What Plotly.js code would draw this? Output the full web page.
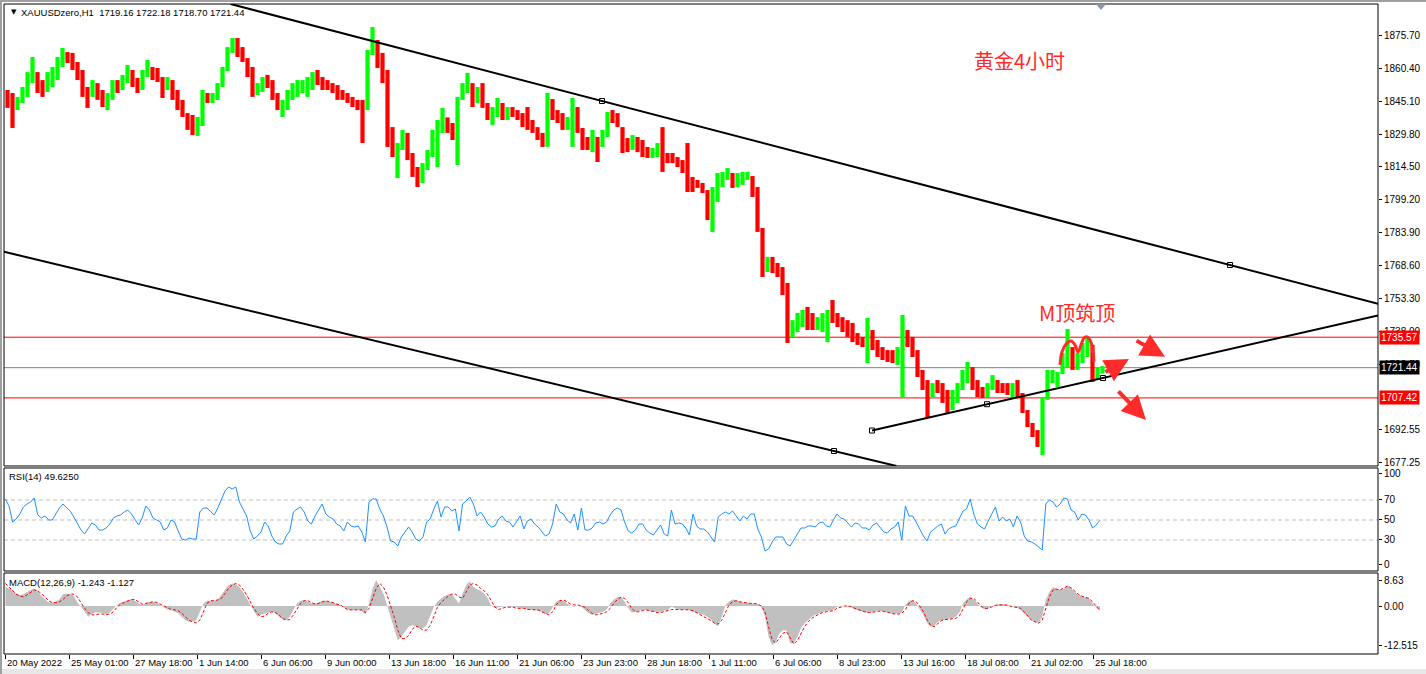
<!DOCTYPE html>
<html><head><meta charset="utf-8">
<script src="https://cdn.plot.ly/plotly-3.0.1.min.js"></script>
<style>html,body{margin:0;padding:0;background:#fff;overflow:hidden}#chart{width:1426px;height:674px}</style>
</head><body><div id="chart"></div>
<script>
// ---------------- DATA ----------------
const symbolTitle = 'XAUUSDzero,H1';
const lastBarOHLC = [1719.16, 1722.18, 1718.70, 1721.44];
const chartNote = '黄金4小时';
const patternNote = 'M顶筑顶';

const dateLabels = ['20 May 2022','25 May 01:00','27 May 18:00','1 Jun 14:00','6 Jun 06:00','9 Jun 00:00','13 Jun 18:00','16 Jun 11:00','21 Jun 06:00','23 Jun 23:00','28 Jun 18:00','1 Jul 11:00','6 Jul 06:00','8 Jul 23:00','13 Jul 16:00','18 Jul 08:00','21 Jul 02:00','25 Jul 18:00'];
const dateLabelBars = [0,64,128,192,256,320,384,448,512,576,640,704,768,832,896,960,1024,1088];

// aggregated H1 bars (every 5 hourly bars)
const candleStart = 2.5, candleStep = 5;
const firstOpen = 1846.5;
const candleHigh = [
1850.2,1848.8,1847.0,1851.6,1858.5,1865.5,1858.5,1854.8,1858.5,1860.9,
1865.5,1869.7,1867.8,1867.4,1863.2,1859.5,1851.6,1854.8,1853.4,1850.2,
1848.8,1854.8,1854.8,1857.2,1861.8,1859.5,1855.8,1859.5,1864.1,1860.9,
1860.4,1856.2,1856.2,1854.8,1850.2,1845.6,1839.5,1838.6,1837.7,1850.2,
1848.8,1848.8,1853.4,1860.9,1870.1,1874.3,1874.3,1870.1,1865.0,1860.9,
1853.4,1856.2,1857.2,1854.8,1848.8,1845.6,1850.2,1853.4,1854.8,1854.8,
1856.2,1858.5,1859.5,1856.2,1854.8,1853.4,1852.5,1850.2,1848.8,1847.0,
1845.6,1845.6,1868.8,1879.4,1873.4,1867.4,1859.5,1833.0,1825.6,1831.7,
1830.3,1821.0,1814.5,1816.3,1822.4,1831.7,1836.3,1841.9,1837.5,1834.9,
1847.0,1853.4,1858.1,1853.4,1851.6,1853.4,1844.2,1842.3,1846.5,1844.2,
1842.3,1842.3,1840.9,1839.5,1842.3,1836.3,1833.0,1830.3,1848.8,1846.0,
1840.9,1839.5,1837.7,1846.5,1842.3,1832.6,1828.4,1831.7,1828.4,1831.7,
1840.0,1840.9,1839.5,1833.0,1827.9,1829.3,1828.4,1827.0,1823.8,1823.3,
1825.6,1833.0,1821.0,1821.0,1819.1,1817.7,1825.6,1809.9,1808.5,1807.1,
1803.8,1805.2,1811.7,1812.2,1814.0,1811.7,1811.7,1812.2,1812.2,1810.3,
1805.2,1786.2,1772.8,1772.8,1770.0,1768.1,1760.7,1743.5,1746.8,1748.2,
1749.6,1746.8,1744.9,1746.8,1748.2,1752.8,1746.8,1744.9,1743.5,1742.2,
1737.5,1735.7,1744.5,1738.9,1734.3,1731.0,1729.6,1729.6,1731.0,1745.9,
1738.9,1735.7,1729.6,1720.4,1715.7,1714.3,1715.7,1714.3,1711.1,1711.1,
1714.3,1720.4,1724.1,1721.7,1715.7,1712.5,1714.3,1718.0,1715.7,1714.3,
1714.3,1714.3,1715.7,1709.7,1701.8,1695.8,1692.5,1707.8,1720.4,1720.4,
1719.4,1728.2,1739.4,1731.0,1728.2,1732.9,1735.7,1732.0,1721.3,1722.18];
const candleLow = [
1841.9,1832.6,1840.9,1844.2,1847.0,1853.4,1848.8,1847.0,1849.3,1851.6,
1854.8,1860.9,1862.7,1859.5,1854.8,1847.0,1841.9,1847.0,1845.6,1842.3,
1840.9,1845.6,1848.8,1850.2,1853.4,1851.6,1848.8,1850.2,1856.2,1854.8,
1853.9,1846.5,1850.2,1845.6,1840.9,1837.7,1831.7,1829.3,1828.9,1833.5,
1844.2,1844.2,1845.6,1851.6,1859.0,1867.4,1865.5,1863.2,1856.2,1847.0,
1847.9,1849.3,1851.1,1845.6,1840.9,1837.7,1840.9,1845.6,1847.0,1848.8,
1847.0,1850.2,1852.5,1850.2,1850.2,1848.8,1845.6,1845.6,1844.2,1842.3,
1840.9,1825.6,1840.9,1866.4,1860.4,1853.4,1823.8,1819.1,1809.4,1822.4,
1817.7,1809.9,1805.2,1807.1,1813.1,1819.1,1814.5,1830.3,1830.3,1827.0,
1815.4,1845.6,1848.8,1842.3,1844.2,1841.9,1836.3,1834.0,1837.7,1836.3,
1836.3,1837.7,1836.3,1833.0,1831.7,1830.3,1827.0,1823.8,1823.8,1836.3,
1834.9,1831.7,1831.7,1823.8,1830.3,1822.4,1822.4,1821.4,1816.8,1823.8,
1828.4,1834.9,1833.0,1821.0,1821.4,1822.4,1821.4,1819.1,1818.7,1818.7,
1819.1,1812.2,1816.3,1816.3,1814.5,1811.7,1802.9,1802.9,1804.8,1802.4,
1789.9,1784.4,1798.3,1805.2,1808.5,1804.8,1805.2,1806.2,1808.5,1800.6,
1784.4,1763.5,1765.8,1765.3,1763.5,1755.1,1732.9,1735.7,1738.0,1740.3,
1738.9,1738.9,1738.9,1738.0,1733.3,1742.2,1740.3,1738.0,1735.7,1733.3,
1732.0,1731.0,1723.6,1729.6,1726.4,1725.0,1724.1,1723.6,1722.7,1707.8,
1731.0,1726.4,1717.1,1711.1,1698.1,1707.8,1709.7,1705.1,1700.4,1701.8,
1705.1,1711.1,1714.3,1711.1,1707.8,1707.4,1707.4,1711.1,1709.7,1709.7,
1708.8,1707.8,1707.4,1700.4,1693.9,1689.3,1684.7,1680.9,1706.5,1714.3,
1712.5,1718.5,1721.7,1720.4,1720.4,1723.6,1726.4,1714.8,1715.7,1718.70];
const candleClose = [
1845.6,1842.8,1845.6,1850.2,1855.8,1857.2,1852.5,1852.5,1857.2,1859.5,
1864.1,1866.4,1865.0,1861.8,1857.2,1849.3,1847.9,1851.1,1847.9,1845.6,
1847.9,1852.5,1852.1,1855.8,1858.5,1853.9,1852.5,1858.5,1859.5,1858.5,
1855.8,1852.5,1853.0,1847.9,1843.2,1838.6,1834.0,1832.6,1834.0,1847.9,
1845.6,1847.0,1852.5,1859.5,1868.8,1872.5,1868.8,1865.0,1858.5,1850.2,
1852.1,1853.9,1853.0,1847.4,1842.8,1843.7,1847.9,1851.1,1852.1,1853.0,
1853.9,1856.7,1854.8,1853.0,1852.1,1850.2,1848.3,1847.4,1845.6,1844.2,
1842.8,1840.9,1866.4,1873.4,1866.4,1857.2,1829.3,1822.4,1824.7,1827.9,
1820.1,1812.2,1809.4,1814.0,1820.1,1829.3,1834.0,1837.2,1832.6,1829.3,
1845.6,1852.1,1852.5,1847.9,1849.3,1843.7,1838.6,1840.9,1842.8,1840.0,
1840.9,1840.0,1838.1,1836.3,1833.5,1831.7,1828.9,1825.6,1845.6,1840.0,
1837.2,1834.4,1836.3,1840.9,1832.6,1826.1,1824.7,1827.0,1826.1,1829.3,
1838.6,1837.2,1833.0,1824.7,1824.7,1827.0,1823.8,1821.4,1820.1,1821.4,
1823.3,1820.1,1818.7,1817.7,1816.3,1814.0,1806.2,1806.2,1805.7,1803.8,
1794.6,1801.5,1808.5,1810.3,1810.8,1808.5,1809.4,1810.3,1810.3,1802.9,
1786.2,1769.1,1770.4,1767.7,1765.8,1757.5,1738.9,1741.7,1744.5,1746.3,
1744.5,1742.6,1743.5,1744.5,1745.9,1744.5,1742.6,1739.8,1738.9,1735.2,
1734.3,1733.3,1736.6,1732.0,1728.7,1727.3,1726.9,1725.9,1729.6,1736.6,
1734.3,1728.7,1719.4,1712.9,1711.1,1712.0,1711.1,1707.4,1704.1,1708.8,
1712.0,1718.0,1719.4,1713.4,1710.2,1709.7,1712.5,1713.9,1712.9,1711.5,
1711.1,1712.0,1708.8,1701.8,1695.3,1691.6,1686.0,1706.5,1716.6,1717.6,
1718.5,1725.9,1728.7,1725.0,1725.9,1730.6,1732.0,1716.6,1719.4,1721.44];

// indicator samples
const indStart = 0.4, indStep = 3.6;
const rsiValues = [
71,64,48,51,56,63,66,68,72,55, 52,54,50,50,56,62,66,62,59,53,
46,40,36,42,47,45,40,40,42,46, 52,54,55,58,60,56,51,45,52,64,
60,52,50,48,40,42,50,48,39,31, 30,32,31,31,58,62,62,58,55,62,
70,79,83,81,83,68,61,54,39,31, 34,38,48,44,34,28,26,26,34,39,
58,61,63,58,49,46,54,60,66,56, 53,51,46,44,39,48,44,43,44,38,
28,68,71,71,61,54,43,29,28,24, 33,38,43,38,31,29,33,48,51,61,
69,53,63,63,59,61,39,66,69,73, 66,54,58,53,46,43,44,51,54,49,
48,43,49,54,41,49,51,46,43,38, 34,
36,46,66,58,56,50,47,56,40,62, 40,40,42,47,48,46,48,55,60,62,
60,48,39,37,40,46,46,40,37,35, 40,45,36,34,60,46,47,46,42,35,
56,44,41,41,38,33,28,53,56,58, 56,59,54,49,54,51,56,56,41,33,
19,21,28,33,33,33,26,24,30,36, 42,42,44,44,43,47,48,44,43,50,
56,52,51,47,43,47,46,42,42,40, 45,47,42,38,37,41,43,48,30,64,
54,54,48,41,34,29,38,41,44,46, 36,41,43,44,51,59,61,71,56,46,
43,41,49,56,63,49,53,49,51,43, 54,48,34,29,28,26,23,20,66,70,
68,63,66,72,71,60,58,50,56,55, 50,42,45,49.625];
const macdMain = [
5.0,4.6,4.2,3.3,2.9,3.1,3.7,4.2,4.6,4.0, 2.6,1.7,0.9,0.9,1.1,1.7,3.1,3.3,3.1,2.6,
0.9,-0.2,-1.5,-2.8,-2.1,-1.7,-1.7,-1.9,-2.1,-1.7, -0.6,0.3,0.9,1.1,1.6,1.7,1.4,0.7,0.3,0.7,
1.1,1.1,0.9,0.3,-0.3,-0.9,-1.0,-1.5,-1.9,-2.8, -3.7,-4.1,-4.1,-3.7,-1.7,0.7,1.4,1.4,1.4,1.7,
2.9,4.2,5.5,5.9,5.7,5.0,3.7,2.0,0.3,-1.5, -2.8,-2.3,-1.9,-1.7,-1.5,-1.9,-2.8,-3.5,-3.7,-2.8,
-1.0,0.7,1.4,1.6,1.1,0.7,0.7,0.9,1.4,1.4, 1.1,0.9,0.7,0.3,-0.3,-0.9,-1.0,-1.0,-1.0,-1.2,
-2.3,0.7,4.6,6.8,5.0,3.3,0.3,-2.8,-5.8,-8.9, -8.0,-6.7,-5.4,-5.0,-5.2,-5.8,-5.8,-5.0,-2.8,-0.2,
1.1,2.0,2.6,3.1,3.1,2.0,0.7,3.3,5.5,6.4, 5.0,4.4,4.0,3.3,2.0,0.0,-0.6,-0.3,-0.2,0.0,
-0.3,-0.2,-0.3,-0.6,-0.6,-0.9,-0.9,-1.0,-1.2,-1.5, -2.1,
-1.9,-0.2,1.1,1.6,1.4,0.7,0,-0.2,0,-0.2, -1.0,-1.9,-2.3,-2.1,-1.7,-1.5,-0.9,0.7,1.7,2.3,
2.4,1.1,-0.6,-1.7,-1.5,-1.2,-1.0,-1.0,-1.2,-1.5, -1.5,-1.5,-1.2,-1.0,-0.2,-0.6,-0.9,-0.9,-0.9,-1.0,
-1.5,-1.7,-1.9,-2.3,-2.8,-3.5,-4.7,-5.2,-2.8,0.3, 1.1,1.7,1.6,1.1,0.9,0.9,0.7,0.7,0.5,-0.2,
-2.8,-8.0,-10.2,-9.3,-7.1,-6.3,-6.3,-9.7,-9.7,-8.0, -5.8,-4.5,-3.7,-2.8,-2.3,-1.9,-1.5,-1.2,-1.2,-0.9,
-0.2,0,0,-0.2,-0.3,-0.9,-1.2,-1.5,-1.7,-1.7, -1.5,-1.2,-1.2,-1.5,-1.7,-1.9,-2.1,-1.9,-1.7,0.3,
1.4,1.6,0.7,-0.9,-2.3,-4.4,-5.4,-5.2,-4.1,-3.7, -3.5,-3.5,-3.2,-2.8,-1.7,0.7,1.7,2.4,1.7,0.7,
-0.3,-0.9,-0.6,0,0.3,0.5,0.5,0.3,0,-0.2, -0.3,-1.0,-1.9,-2.8,-3.7,-4.1,-4.5,-2.8,1.6,3.7,
4.9,4.6,4.2,4.4,5.5,4.6,3.7,2.9,2.6,2.4, 2.0,0.7,-0.3,-1.243];
const macdSignal = [
5.9,5.0,4.0,3.1,2.6,2.4,2.9,3.5,4.2,4.0, 3.3,2.4,1.4,0.9,0.9,1.1,1.7,2.6,3.1,3.1,
2.4,0.9,-0.6,-1.7,-2.3,-2.3,-2.1,-2.1,-2.2,-2.1, -1.5,-0.3,0.5,0.9,1.4,1.7,1.7,1.1,0.5,0.7,
1.0,1.1,1.0,0.5,0.0,-0.6,-0.9,-1.0,-1.2,-1.9, -2.8,-3.7,-4.1,-4.4,-3.7,-1.5,0.7,1.4,1.4,1.6,
2.0,3.3,4.6,5.5,5.9,5.5,4.4,2.9,1.1,-0.6, -1.9,-2.8,-2.6,-1.9,-1.5,-1.7,-2.3,-3.2,-3.7,-3.5,
-2.3,-0.6,0.7,1.4,1.4,0.9,0.5,0.7,1.1,1.4, 1.1,0.9,0.5,0.3,-0.3,-0.9,-1.0,-1.0,-1.0,-1.0,
-1.7,-0.6,2.0,4.6,5.9,5.0,2.9,0.3,-2.8,-6.3, -8.5,-8.5,-7.7,-6.1,-5.2,-5.6,-6.3,-6.3,-5.0,-2.8,
-0.3,0.9,1.7,2.6,3.1,3.1,2.4,2.0,3.7,5.5, 5.9,5.5,4.6,4.0,2.9,1.1,-0.3,-0.9,-0.6,-0.3,
-0.3,-0.3,-0.6,-0.6,-0.6,-0.9,-0.9,-0.9,-1.0,-1.5, -1.9,
-2.3,-1.5,0.3,1.4,1.6,1.1,0.5,0.3,0.3,0, -0.3,-1.2,-1.9,-2.3,-2.1,-1.9,-1.5,-0.6,0.7,1.7,
2.3,2.0,0.9,-0.6,-1.5,-1.5,-1.2,-1.0,-1.2,-1.5, -1.7,-1.7,-1.5,-1.2,-0.9,-0.9,-0.9,-0.9,-0.9,-1.0,
-1.2,-1.7,-2.1,-2.6,-3.2,-3.8,-4.5,-4.7,-3.7,-1.5, 0.3,1.1,1.4,1.1,0.9,0.7,0.7,0.7,0.5,0,
-1.5,-5.4,-8.9,-9.6,-8.5,-7.1,-6.7,-8.5,-9.9,-9.0, -7.1,-5.4,-4.1,-3.2,-2.6,-2.1,-1.7,-1.5,-1.3,-1.2,
-0.6,-0.2,0,0,-0.2,-0.6,-1.0,-1.3,-1.6,-1.7, -1.6,-1.4,-1.3,-1.4,-1.7,-1.9,-2.1,-2.1,-1.9,-0.9,
0.7,1.4,1.1,0,-1.5,-3.5,-5.0,-5.4,-4.7,-3.8, -3.5,-3.5,-3.3,-3.2,-2.6,-0.9,1.1,2.0,2.0,1.1,
0,-0.6,-0.6,-0.2,0.2,0.3,0.3,0.3,0,-0.2, -0.3,-0.6,-1.5,-2.6,-3.7,-4.1,-4.5,-3.7,-0.9,2.4,
4.2,4.4,4.2,4.6,5.2,4.8,4.0,3.1,2.6,2.4, 2.0,1.1,0,-1.127];

// axis labels
const priceTicks = [1875.70,1860.40,1845.10,1829.80,1814.50,1799.20,1783.90,1768.60,1753.30,1738.00,1722.70,1692.55,1677.25];
const rsiTickPos = [96,70,50,30,5];
const rsiTickText = ['100','70','50','30','0'];
const rsiLevels = [70,50,30];
const macdTickPos = [6.8,0,-10.17];
const macdTickText = ['8.63','0.00','-12.515'];

// horizontal price levels and bid
const redLevels = [1735.57, 1707.42];
const bidPrice = 1721.44;

// drawn objects (bar index, price)
const upperTrend = [[597,1845.10],[1225,1769.05]];
const lowerTrend = [[0,1775.08],[829,1682.80]];
const risingTrend = [[867,1692.30],[982,1704.50],[1098,1716.65]];
const mShape = [[1055,1722.7],[1057,1728.7],[1061,1732.4],[1066,1733.8],[1070,1732.0],[1073,1728.7],[1076,1732.0],[1079,1735.2],[1082,1735.7],[1086,1733.3],[1088,1728.7],[1089,1724.1]];
const arrowHeads = [[1124,1725.5,-25,14],[1160,1726.5,-30,-17],[1141,1697.2,-29,-30]];
const notePos = [1014,1864.1];
const patternPos = [1072,1746.8];

// ---------------- BUILD ----------------
const XR = [-1, 1373];
const YR = [1675.85, 1890.08];
const RED = '#ff0000', NOTE = '#ff2a2a';

const candleX = candleClose.map((_, i) => candleStart + candleStep * i);
const candleOpen = candleClose.map((c, i) => i === 0 ? firstOpen : candleClose[i - 1]);
const indX = rsiValues.map((_, i) => indStart + indStep * i);

function clipSeg(a, b, extL, extR) {
  let t0 = extL ? -1e9 : 0, t1 = extR ? 1e9 : 1;
  const dx = b[0] - a[0], dy = b[1] - a[1];
  const p = [-dx, dx, -dy, dy];
  const q = [a[0] - XR[0], XR[1] - a[0], a[1] - YR[0], YR[1] - a[1]];
  for (let i = 0; i < 4; i++) {
    if (p[i] === 0) { if (q[i] < 0) return null; continue; }
    const r = q[i] / p[i];
    if (p[i] < 0) { if (r > t0) t0 = r; } else { if (r < t1) t1 = r; }
  }
  if (t0 > t1) return null;
  return [[a[0] + t0 * dx, a[1] + t0 * dy], [a[0] + t1 * dx, a[1] + t1 * dy]];
}

const traces = [
  {type:'ohlc', x:candleX, open:candleOpen, high:candleHigh, low:candleLow, close:candleClose,
   increasing:{line:{color:'#00ff00', width:4.2}},
   decreasing:{line:{color:'#ff0000', width:4.2}},
   tickwidth:0, hoverinfo:'skip', xaxis:'x', yaxis:'y'},
  {type:'scatter', mode:'lines', x:mShape.map(p=>p[0]), y:mShape.map(p=>p[1]),
   line:{color:NOTE, width:3, shape:'spline'}, hoverinfo:'skip', xaxis:'x', yaxis:'y'},
  {type:'scatter', mode:'lines', x:indX, y:rsiValues, line:{color:'#1e90ff', width:1},
   hoverinfo:'skip', xaxis:'x', yaxis:'y2'},
  {type:'scatter', mode:'lines', x:indX, y:macdMain, fill:'tozeroy', fillcolor:'#c0c0c0',
   line:{color:'rgba(0,0,0,0)', width:0}, hoverinfo:'skip', xaxis:'x', yaxis:'y3'},
  {type:'scatter', mode:'lines', x:indX, y:macdSignal, line:{color:'#ff0000', width:1, dash:'3px,2px'},
   hoverinfo:'skip', xaxis:'x', yaxis:'y3'}
];

const shapes = [];
[[upperTrend[0], upperTrend[1], true, true],
 [lowerTrend[0], lowerTrend[1], true, true],
 [risingTrend[0], risingTrend[2], false, true]].forEach(([a, b, l, r]) => {
  const s = clipSeg(a, b, l, r);
  if (s) shapes.push({type:'line', xref:'x', yref:'y', x0:s[0][0], y0:s[0][1], x1:s[1][0], y1:s[1][1],
    line:{color:'#000', width:2}, layer:'above'});
});
const anchorPts = [upperTrend[0], upperTrend[1], lowerTrend[1], risingTrend[0], risingTrend[1], risingTrend[2]];
traces.push({type:'scatter', mode:'markers', x:anchorPts.map(p=>p[0]), y:anchorPts.map(p=>p[1]),
  marker:{symbol:'square', size:5, color:'#fff', line:{color:'#000', width:1}}, hoverinfo:'skip', xaxis:'x', yaxis:'y'});

redLevels.forEach(v => shapes.push({type:'line', xref:'paper', yref:'y', x0:0, x1:1, y0:v, y1:v, line:{color:RED, width:1}, layer:'below'}));
shapes.push({type:'line', xref:'paper', yref:'y', x0:0, x1:1, y0:bidPrice, y1:bidPrice, line:{color:'#808080', width:1}, layer:'below'});
rsiLevels.forEach(v => shapes.push({type:'line', xref:'paper', yref:'y2', x0:0, x1:1, y0:v, y1:v, line:{color:'#c0c0c0', width:1, dash:'4px,3px'}, layer:'below'}));

const doms = {main:[0.289231, 1], rsi:[0.127692, 0.286154], macd:[0, 0.124615]};
Object.values(doms).forEach(d => shapes.push({type:'rect', xref:'paper', yref:'paper', x0:0, x1:1, y0:d[0], y1:d[1], line:{color:'#000', width:1}, fillcolor:'rgba(0,0,0,0)', layer:'above'}));
const px2x = px => (px - 4) / 1374, py2y = py => (654 - py) / 650;
shapes.push({type:'rect', xref:'paper', yref:'paper', x0:px2x(0), x1:px2x(1426), y0:py2y(669), y1:py2y(674), line:{width:0}, fillcolor:'#e8e8e8'});
shapes.push({type:'rect', xref:'paper', yref:'paper', x0:px2x(0), x1:px2x(1426), y0:py2y(0), y1:py2y(2), line:{width:0}, fillcolor:'#a0a0a0'});
shapes.push({type:'rect', xref:'paper', yref:'paper', x0:px2x(0), x1:px2x(2), y0:py2y(674), y1:py2y(0), line:{width:0}, fillcolor:'#a0a0a0'});
shapes.push({type:'path', xref:'paper', yref:'paper',
  path:`M ${px2x(1096)} ${py2y(4)} L ${px2x(1106)} ${py2y(4)} L ${px2x(1101)} ${py2y(10)} Z`,
  fillcolor:'#8a96a3', line:{width:0}});

const annotations = [];
const F = 'Liberation Sans, Arial, sans-serif';
annotations.push({xref:'paper', yref:'paper', x:px2x(9), y:py2y(12), xanchor:'left', yanchor:'middle', showarrow:false,
  text:'▼', font:{family:'DejaVu Sans', size:7, color:'#000'}});
annotations.push({xref:'paper', yref:'paper', x:px2x(19), y:py2y(12), xanchor:'left', yanchor:'middle', showarrow:false,
  text:symbolTitle + '  ' + lastBarOHLC.map(v=>v.toFixed(2)).join(' '), font:{family:F, size:9.5, color:'#000'}});
annotations.push({xref:'paper', yref:'paper', x:px2x(7), y:py2y(477), xanchor:'left', yanchor:'middle', showarrow:false,
  text:'RSI(14) ' + rsiValues[rsiValues.length-1].toFixed(4), font:{family:F, size:9.5, color:'#000'}});
annotations.push({xref:'paper', yref:'paper', x:px2x(7), y:py2y(582), xanchor:'left', yanchor:'middle', showarrow:false,
  text:'MACD(12,26,9) ' + macdMain[macdMain.length-1].toFixed(3) + ' ' + macdSignal[macdSignal.length-1].toFixed(3), font:{family:F, size:9.5, color:'#000'}});
dateLabels.forEach((t, i) => annotations.push({xref:'x', yref:'paper', x:dateLabelBars[i], y:py2y(662), xanchor:'left', yanchor:'middle',
  xshift:0, showarrow:false, text:t, font:{family:F, size:9.5, color:'#000'}}));
redLevels.forEach(v => annotations.push({xref:'paper', yref:'y', x:1, y:v, xanchor:'left', yanchor:'middle', showarrow:false,
  text:v.toFixed(2), bgcolor:RED, borderpad:1, font:{family:F, size:10, color:'#fff'}, xshift:1}));
annotations.push({xref:'paper', yref:'y', x:1, y:bidPrice, xanchor:'left', yanchor:'middle', showarrow:false,
  text:bidPrice.toFixed(2), bgcolor:'#000', borderpad:1, font:{family:F, size:10, color:'#fff'}, xshift:1});
annotations.push({xref:'x', yref:'y', x:notePos[0], y:notePos[1], showarrow:false, text:chartNote,
  font:{family:'Noto Sans CJK SC', size:20, color:NOTE}});
annotations.push({xref:'x', yref:'y', x:patternPos[0], y:patternPos[1], showarrow:false, text:patternNote,
  font:{family:'Noto Sans CJK SC', size:20, color:NOTE}});
arrowHeads.forEach(a => annotations.push({xref:'x', yref:'y', x:a[0], y:a[1], ax:a[2], ay:a[3], text:'',
  showarrow:true, arrowhead:2, arrowsize:1.2, arrowwidth:4, arrowcolor:NOTE, standoff:0, startstandoff:0}));

const axisCommon = {showgrid:false, zeroline:false, showline:false, fixedrange:true, ticks:'outside', ticklen:3, tickcolor:'#000',
  side:'right', anchor:'x', tickfont:{family:F, size:10, color:'#000'}};

const layout = {
  width:1426, height:674, margin:{l:4, r:48, t:4, b:20, pad:0},
  paper_bgcolor:'#fff', plot_bgcolor:'#fff', showlegend:false,
  font:{family:F, size:10, color:'#000'},
  xaxis:{range:XR, anchor:'y3', tickvals:dateLabelBars, ticks:'outside', ticklen:4, tickcolor:'#000',
    showticklabels:false, showgrid:false, zeroline:false, showline:false, fixedrange:true, rangeslider:{visible:false}},
  yaxis:Object.assign({}, axisCommon, {domain:doms.main, range:YR, tickvals:priceTicks, ticktext:priceTicks.map(v=>v.toFixed(2))}),
  yaxis2:Object.assign({}, axisCommon, {domain:doms.rsi, range:[-1,102], tickvals:rsiTickPos, ticktext:rsiTickText}),
  yaxis3:Object.assign({}, axisCommon, {domain:doms.macd, range:[-12.515,8.63], tickvals:macdTickPos, ticktext:macdTickText}),
  shapes:shapes, annotations:annotations
};

Plotly.newPlot('chart', traces, layout, {staticPlot:true, displayModeBar:false});
</script>
</body></html>
